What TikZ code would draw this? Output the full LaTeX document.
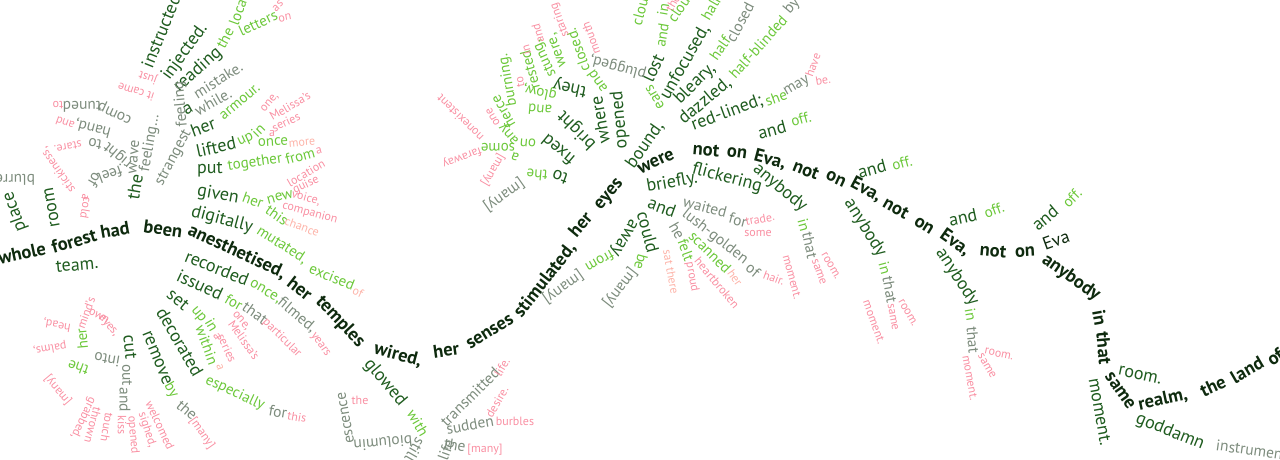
\documentclass[tikz,border=0pt]{standalone}
\usepackage{fontspec}
\setmainfont{PT Sans}
\definecolor{spine}{HTML}{0E2A0E}
\definecolor{dkg}{HTML}{1F5C1F}
\definecolor{lg}{HTML}{6CC83A}
\definecolor{gr}{HTML}{7D8C7D}
\definecolor{pk}{HTML}{F98FA2}
\definecolor{pc}{HTML}{FDB3A8}
\newcounter{wc}
\newcommand\W[5]{\stepcounter{wc}\node[#1,rotate=#4] (w\arabic{wc}) at (#2,#3) {#5};}
\tikzset{
 wd/.style={inner sep=0pt,anchor=center},
 wS/.style={wd,text=spine,font=\fontsize{18.5}{18.5}\selectfont\bfseries},
 wE/.style={wd,text=spine,font=\fontsize{18}{18}\selectfont},
 wD/.style={wd,text=dkg,font=\fontsize{18}{18}\selectfont},
 wG/.style={wd,text=gr,font=\fontsize{15.5}{15.5}\selectfont},
 wL/.style={wd,text=lg,font=\fontsize{15}{15}\selectfont},
 wP/.style={wd,text=pk,font=\fontsize{12}{12}\selectfont},
 wQ/.style={wd,text=pc,font=\fontsize{12}{12}\selectfont},
}
\begin{document}
\begin{tikzpicture}[x=1pt,y=-1pt]
\useasboundingbox (0,0) rectangle (1280,460);
% spine
\W{wS}{22}{253}{12}{whole}
\W{wS}{74}{241}{16}{forest}
\W{wS}{115}{230}{10}{had}
\W{wS}{163}{229}{-8}{been}
\W{wS}{237}{252}{-25}{anesthetised,}
\W{wS}{300}{288}{-38}{her}
\W{wS}{340}{322}{-47}{temples}
\W{wS}{398}{355}{-15}{wired,}
\W{wS}{446}{350}{8}{her}
\W{wS}{490}{332}{32}{senses}
\W{wS}{545}{280}{52}{stimulated,}
\W{wS}{580}{224}{50}{her}
\W{wS}{610}{195}{50}{eyes}
\W{wS}{656}{162}{25}{were}
\W{wS}{706}{150}{-5}{not}
\W{wS}{737}{153}{-8}{on}
\W{wS}{770}{160}{-15}{Eva,}
\W{wS}{806}{170}{-22}{not}
\W{wS}{836}{179}{-25}{on}
\W{wS}{866}{190}{-28}{Eva,}
\W{wS}{896}{208}{-30}{not}
\W{wS}{924}{226}{-32}{on}
\W{wS}{955}{243}{-35}{Eva,}
\W{wS}{993}{251}{-5}{not}
\W{wS}{1025}{252}{3}{on}
\W{wE}{1056}{240}{20}{Eva}
\W{wS}{1071}{278}{-35}{anybody}
\W{wS}{1100}{318}{-80}{in}
\W{wS}{1104}{348}{-85}{that}
\W{wS}{1120}{391}{-55}{same}
\W{wS}{1163}{400}{12}{realm,}
\W{wS}{1213}{386}{25}{the}
\W{wS}{1247}{370}{30}{land}
\W{wS}{1275}{357}{35}{of}
% right end branches
\W{wD}{1140}{375}{-12}{room.}
\W{wD}{1100}{412}{-80}{moment.}
\W{wD}{1170}{432}{-22}{goddamn}
\W{wG}{1252}{450}{-8}{instrument}
% and off.
\W{wD}{772}{130}{15}{and}\W{wL}{801}{119}{15}{off.}
\W{wD}{872}{169}{15}{and}\W{wL}{902}{163}{15}{off.}
\W{wD}{963}{217}{12}{and}\W{wL}{994}{210}{20}{off.}
\W{wD}{1045}{218}{40}{and}\W{wL}{1072}{198}{45}{off.}
% anybody 1
\W{wD}{780}{188}{-40}{anybody}
\W{wL}{804}{225}{-75}{in}
\W{wG}{810}{245}{-78}{that}
\W{wP}{831}{266}{-60}{room.}
\W{wP}{819}{272}{-70}{same}
\W{wP}{792}{277}{-75}{moment.}
% anybody 2
\W{wD}{865}{228}{-58}{anybody}
\W{wL}{885}{268}{-75}{in}
\W{wG}{890}{290}{-80}{that}
\W{wP}{908}{313}{-60}{room.}
\W{wP}{893}{317}{-80}{same}
\W{wP}{874}{322}{-70}{moment.}
% anybody 3
\W{wD}{957}{277}{-57}{anybody}
\W{wL}{971}{315}{-80}{in}
\W{wG}{973}{340}{-85}{that}
\W{wP}{999}{354}{-12}{room.}
\W{wP}{987}{366}{-60}{same}
\W{wP}{970}{378}{-80}{moment.}
% were: down-right
\W{wD}{672}{183}{10}{briefly.}
\W{wD}{727}{178}{-15}{flickering}
\W{wD}{662}{207}{-20}{and}
\W{wD}{648}{232}{-75}{could}
\W{wL}{641}{262}{-105}{be}
\W{wG}{620}{288}{-128}{[many]}
\W{wD}{623}{237}{-120}{away}
\W{wL}{600}{262}{-150}{from}
\W{wG}{563}{287}{-145}{[many]}
\W{wG}{705}{207}{-15}{waited}
\W{wG}{738}{220}{-15}{for}
\W{wP}{760}{219}{10}{trade.}
\W{wP}{758}{233}{0}{some}
\W{wG}{715}{237}{-38}{lush-golden}
\W{wG}{753}{270}{-40}{of}
\W{wP}{774}{278}{-20}{hair.}
\W{wG}{677}{231}{-60}{he}
\W{wQ}{671}{272}{-80}{sat there}
\W{wL}{686}{250}{-70}{felt}
\W{wP}{692}{277}{-80}{proud}
\W{wP}{717}{283}{-50}{heartbroken}
\W{wL}{710}{252}{-45}{scanned}
\W{wQ}{735}{278}{-55}{her}
% were: up
\W{wD}{645}{145}{55}{bound,}
\W{wD}{653}{68}{65}{lost}
\W{wL}{662}{35}{80}{and}
\W{wL}{663}{10}{80}{in}
\W{wL}{641}{8}{75}{cloud}
\W{wP}{673}{3}{60}{the}
\W{wL}{681}{6}{55}{cloud}
\W{wD}{685}{62}{60}{unfocused,}
\W{wL}{711}{8}{60}{half}
\W{wD}{695}{84}{45}{bleary,}
\W{wL}{720}{48}{55}{half}
\W{wG}{740}{22}{62}{closed}
\W{wD}{705}{101}{40}{dazzled,}
\W{wL}{758}{47}{48}{half-blinded}
\W{wG}{792}{6}{50}{by}
\W{wD}{727}{113}{20}{red-lined;}
\W{wL}{776}{98}{20}{she}
\W{wG}{797}{87}{30}{may}
\W{wP}{813}{65}{70}{have}
\W{wP}{823}{80}{10}{be.}
\W{wD}{620}{120}{95}{opened}
\W{wL}{655}{97}{120}{ears}
\W{wG}{618}{67}{165}{plugged,}
\W{wP}{591}{38}{110}{mouth}
\W{wD}{600}{120}{100}{where}
\W{wL}{597}{82}{125}{and}
\W{wL}{578}{50}{110}{closed.}
\W{wD}{577}{130}{135}{bright}
\W{wL}{540}{110}{175}{and}
\W{wL}{503}{112}{120}{fierce}
\W{wL}{508}{80}{100}{burning.}
\W{wP}{520}{82}{100}{to}
\W{wL}{540}{92}{168}{glow,}
\W{wD}{570}{88}{168}{they}
\W{wL}{530}{70}{105}{rested}
\W{wP}{526}{50}{105}{in}
\W{wL}{545}{58}{115}{stung,}
\W{wL}{558}{50}{110}{were,}
\W{wP}{538}{33}{105}{and}
\W{wP}{560}{20}{110}{staring}
\W{wD}{558}{150}{140}{fixed}
\W{wL}{528}{143}{175}{on}
\W{wL}{515}{157}{160}{a}
\W{wL}{498}{147}{180}{some}
\W{wP}{462}{157}{200}{faraway}
\W{wL}{510}{133}{130}{any}
\W{wP}{493}{117}{120}{one}
\W{wP}{460}{118}{135}{nonexistent}
\W{wP}{493}{170}{240}{[many]}
\W{wD}{560}{177}{160}{to}
\W{wL}{537}{175}{175}{the}
\W{wG}{504}{195}{215}{[many]}
% been: up-fan
\W{wD}{161}{31}{68}{instructed}
\W{wD}{185}{52}{54}{injected.}
\W{wD}{198}{70}{42}{reading}
\W{wL}{225}{38}{62}{the}
\W{wL}{242}{0}{70}{location}
\W{wL}{258}{23}{25}{letters}
\W{wP}{278}{6}{45}{as}
\W{wP}{285}{18}{10}{on}
\W{wG}{218}{80}{32}{mistake.}
\W{wD}{188}{109}{30}{a}
\W{wG}{213}{102}{30}{while.}
\W{wD}{203}{127}{20}{her}
\W{wL}{240}{102}{40}{armour.}
\W{wD}{216}{147}{12}{lifted}
\W{wL}{246}{140}{25}{up}
\W{wL}{258}{130}{45}{in}
\W{wP}{272}{133}{0}{a}
\W{wP}{286}{122}{25}{series}
\W{wP}{290}{106}{30}{Melissa's}
\W{wP}{270}{103}{50}{one,}
\W{wL}{273}{142}{3}{once}
\W{wQ}{302}{143}{5}{more}
\W{wD}{210}{170}{0}{put}
\W{wL}{255}{163}{8}{together}
\W{wL}{300}{156}{15}{from}
\W{wP}{319}{151}{15}{a}
\W{wP}{306}{173}{30}{location}
\W{wP}{306}{185}{25}{guise}
\W{wP}{306}{198}{-15}{voice,}
\W{wP}{310}{213}{-15}{companion}
\W{wQ}{302}{227}{-20}{chance}
\W{wD}{218}{195}{-10}{given}
\W{wL}{253}{200}{-20}{her}
\W{wL}{280}{197}{15}{new}
\W{wL}{277}{215}{-35}{this}
\W{wD}{222}{220}{-15}{digitally}
\W{wL}{282}{245}{-33}{mutated,}
\W{wL}{332}{277}{-22}{excised}
\W{wQ}{358}{292}{-25}{of}
% been: down-fan
\W{wD}{217}{268}{-22}{recorded}
\W{wL}{265}{292}{-30}{once,}
\W{wG}{297}{315}{-40}{filmed,}
\W{wP}{320}{345}{-55}{years}
\W{wD}{200}{285}{-25}{issued}
\W{wL}{234}{302}{-30}{for}
\W{wG}{255}{313}{-35}{that}
\W{wP}{282}{338}{-45}{particular}
\W{wD}{178}{300}{-40}{set}
\W{wL}{198}{315}{-50}{up}
\W{wL}{212}{325}{-60}{in}
\W{wP}{217}{337}{-60}{a}
\W{wP}{227}{348}{-65}{series}
\W{wL}{207}{345}{-70}{within}
\W{wQ}{220}{367}{-70}{a}
\W{wP}{241}{321}{-50}{one,}
\W{wP}{244}{340}{-55}{Melissa's}
\W{wD}{180}{342}{-60}{decorated}
\W{wL}{235}{393}{-25}{especially}
\W{wG}{278}{412}{-10}{for}
\W{wP}{297}{417}{-10}{this}
\W{wD}{157}{358}{-68}{remove}
\W{wL}{171}{390}{-60}{by}
\W{wG}{187}{410}{-40}{the}
\W{wP}{202}{433}{-55}{[many]}
% had / whole: left
\W{wD}{135}{187}{80}{the}
\W{wG}{174}{158}{62}{strangest}
\W{wG}{181}{104}{95}{feeling}
\W{wP}{148}{77}{160}{just}
\W{wG}{150}{143}{80}{feeling...}
\W{wP}{136}{92}{162}{it came}
\W{wG}{134}{157}{85}{wave}
\W{wG}{115}{112}{155}{comp}
\W{wG}{82}{107}{180}{tuned}
\W{wP}{58}{105}{180}{to}
\W{wG}{118}{155}{140}{right}
\W{wG}{95}{144}{170}{to}
\W{wP}{68}{147}{190}{stare.}
\W{wG}{93}{128}{165}{hand,}
\W{wP}{65}{123}{160}{and}
\W{wG}{110}{175}{200}{feel}
\W{wG}{95}{180}{240}{of}
\W{wP}{85}{197}{250}{a}
\W{wP}{86}{208}{-100}{cold}
\W{wP}{58}{170}{125}{stickiness,}
\W{wD}{52}{208}{100}{room}
\W{wG}{11}{180}{180}{blurred}
\W{wD}{15}{212}{110}{place}
\W{wD}{77}{265}{5}{team.}
% had: cut
\W{wD}{130}{347}{-85}{cut}
\W{wG}{127}{375}{-90}{out}
\W{wG}{125}{400}{-90}{and}
\W{wP}{122}{425}{-90}{kiss}
\W{wP}{133}{435}{-85}{opened}
\W{wP}{147}{430}{-72}{sighed,}
\W{wP}{160}{425}{-65}{welcomed}
\W{wP}{107}{427}{-100}{touch}
\W{wP}{93}{425}{-105}{thrown}
\W{wP}{83}{418}{-115}{grabbed,}
\W{wG}{107}{360}{170}{into}
\W{wL}{82}{339}{95}{her}
\W{wL}{78}{368}{160}{the}
\W{wP}{58}{390}{130}{[many]}
\W{wP}{57}{325}{170}{head,}
\W{wP}{50}{348}{190}{palms,}
\W{wP}{86}{313}{70}{mind's}
\W{wP}{99}{316}{-30}{own}
\W{wP}{108}{326}{-50}{eyes,}
% temples: glowed
\W{wD}{385}{383}{-50}{glowed}
\W{wL}{418}{423}{-60}{with}
\W{wG}{470}{397}{45}{transmitted}
\W{wP}{502}{367}{60}{life.}
\W{wG}{470}{425}{10}{sudden}
\W{wP}{497}{402}{60}{desire.}
\W{wP}{515}{421}{0}{burbles}
\W{wG}{455}{445}{-10}{the}
\W{wP}{485}{450}{0}{[many]}
\W{wG}{446}{450}{70}{life}
\W{wG}{383}{443}{185}{biolumin}
\W{wG}{346}{418}{100}{escence}
\W{wP}{360}{400}{0}{the}
\W{wG}{415}{450}{-120}{still}
\end{tikzpicture}
\end{document}
